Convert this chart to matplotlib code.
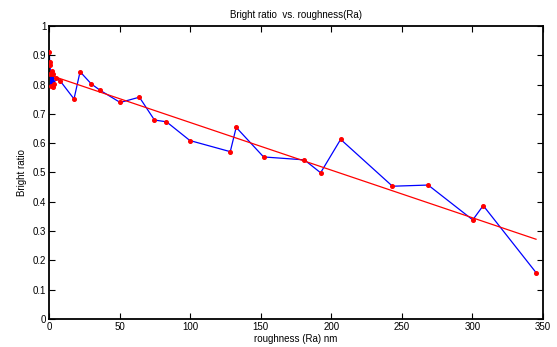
import numpy as np
import matplotlib
matplotlib.use("Agg")
import matplotlib.pyplot as plt

# -----------------------------
# Données
# -----------------------------
roughness = [0.2, 0.5, 0.8, 1.0, 1.4, 1.8, 2.5, 3.0, 3.5, 5.0, 8.0,
             17.7, 22.0, 30.0, 36.4, 50.4, 64.0, 74.7, 83.2, 99.8,
             128.4, 132.6, 152.0, 180.9, 192.4, 206.6, 243.3, 268.6,
             300.2, 307.6, 345.2]
bright_ratio = [0.910, 0.878, 0.868, 0.836, 0.795, 0.847, 0.791, 0.835, 0.801, 0.824, 0.812,
                0.751, 0.844, 0.802, 0.780, 0.739, 0.757, 0.679, 0.673, 0.609,
                0.571, 0.654, 0.553, 0.543, 0.499, 0.613, 0.453, 0.457,
                0.338, 0.387, 0.157]

# droite de régression
fit_x = [2.0, 345.0]
fit_y = [0.830, 0.272]

x_ticks = [0, 50, 100, 150, 200, 250, 300, 350]
y_ticks = [0, 0.1, 0.2, 0.3, 0.4, 0.5, 0.6, 0.7, 0.8, 0.9, 1]

plt.rcParams['font.family'] = ['Liberation Sans', 'DejaVu Sans']

fig = plt.figure(figsize=(5.57, 3.47), dpi=100)
ax = fig.add_axes([0.088, 0.081, 0.887, 0.844])

ax.plot(roughness, bright_ratio, color="#0000ff", linewidth=0.9, zorder=2)
ax.plot(roughness, bright_ratio, linestyle="none", marker="o", markersize=2.6,
        color="#ff0000", zorder=3)
ax.plot(fit_x, fit_y, color="#ff0000", linewidth=0.9, zorder=2)

ax.set_xlim(0, 350)
ax.set_ylim(0, 1)
ax.set_xticks(x_ticks)
ax.set_yticks(y_ticks)
ax.set_yticklabels([f"{v:g}" for v in y_ticks])
ax.tick_params(direction="in", top=True, right=True, labelsize=7, length=4, width=0.8, pad=2)
for s in ax.spines.values():
    s.set_linewidth(1.3)

ax.set_title("Bright ratio  vs. roughness(Ra)", fontsize=7, pad=6)
ax.set_xlabel("roughness (Ra) nm", fontsize=7, labelpad=2)
ax.set_ylabel("Bright ratio", fontsize=7, labelpad=4)

fig.savefig("out.png", dpi=100)
